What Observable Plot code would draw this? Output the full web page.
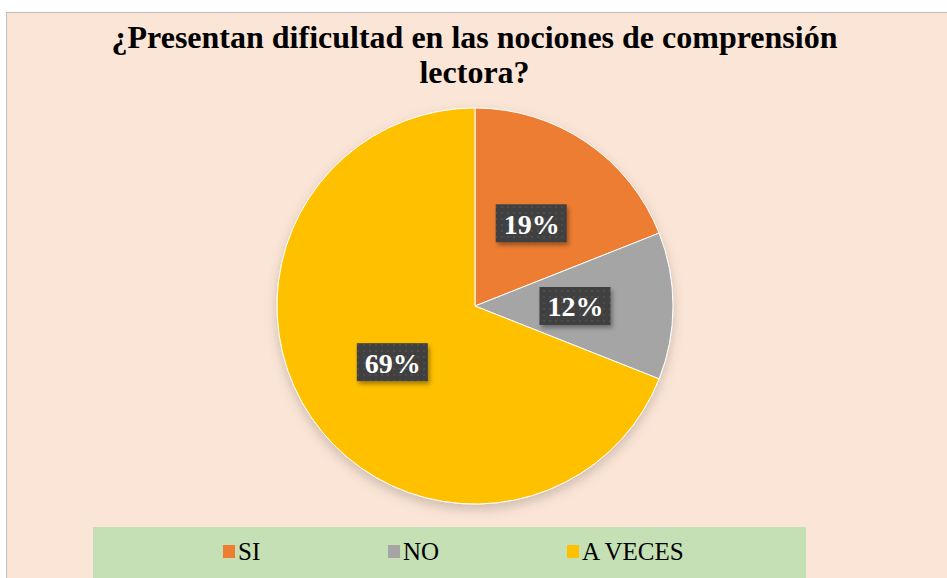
<!DOCTYPE html>
<html>
<head>
<meta charset="utf-8">
<script src="https://cdn.jsdelivr.net/npm/d3@7"></script>
<script src="https://cdn.jsdelivr.net/npm/@observablehq/plot@0.6"></script>
<style>
  html, body { margin: 0; padding: 0; background: #ffffff; }
  #wrap { position: relative; width: 947px; height: 578px; overflow: hidden; background: #ffffff; font-family: "Liberation Serif", "Times New Roman", serif; }
  #panel { position: absolute; left: 6px; top: 12px; width: 945px; height: 570px; background: #FBE5D6; border: 1px solid #BFBFBF; box-sizing: border-box; }
  #title { position: absolute; left: 0; top: 20px; width: 949px; text-align: center; font-weight: bold; font-size: 32px; line-height: 35px; color: #000; }
  #chart { position: absolute; left: 0; top: 0; }
  #legend { position: absolute; left: 93px; top: 527px; width: 713px; height: 51px; background: #C5E0B4; }
  .li { position: absolute; top: 10px; font-size: 25px; line-height: 30px; color: #000; white-space: nowrap; }
  .sw { display: inline-block; width: 12px; height: 13px; margin-right: 3px; vertical-align: 2px; }
</style>
</head>
<body>
<div id="wrap">
  <div id="panel"></div>
  <div id="chart"></div>
  <div id="title">¿Presentan dificultad en las nociones de comprensión<br>lectora?</div>
  <div id="legend"></div>
</div>
<script>
const categories = ["SI", "NO", "A VECES"];
const values = [19, 12, 69];
const labels = ["19%", "12%", "69%"];
const colors = ["#ED7D31", "#A5A5A5", "#FFC000"];

const pie = d3.pie().sort(null).value(d => d.value)(categories.map((c, i) => ({category: c, value: values[i], label: labels[i], color: colors[i]})));
const slices = pie.map(p => ({...p.data, startAngle: p.startAngle, endAngle: p.endAngle, mid: (p.startAngle + p.endAngle) / 2}));

function pieMark(index, scales, values_, dimensions) {
  const x = scales.x || (v => v);
  const y = scales.y || (v => v);
  const cx = x(0), cy = y(0);
  const R = Math.abs(x(1) - x(0));
  const svg = d3.create("svg:g");
  const defs = svg.append("defs");
  const pat = defs.append("pattern").attr("id", "dots").attr("width", 6).attr("height", 6).attr("patternUnits", "userSpaceOnUse");
  pat.append("rect").attr("width", 6).attr("height", 6).attr("fill", "#3F3F3F");
  pat.append("rect").attr("x", 2).attr("y", 2).attr("width", 2).attr("height", 2).attr("fill", "#4E4E4E");
  const f = defs.append("filter").attr("id", "sh").attr("x", "-20%").attr("y", "-20%").attr("width", "140%").attr("height", "150%");
  f.append("feDropShadow").attr("dx", 0).attr("dy", 5).attr("stdDeviation", 6).attr("flood-color", "#000").attr("flood-opacity", 0.18);
  const f2 = defs.append("filter").attr("id", "sh2").attr("x", "-20%").attr("y", "-20%").attr("width", "150%").attr("height", "160%");
  f2.append("feDropShadow").attr("dx", 2).attr("dy", 3).attr("stdDeviation", 2).attr("flood-color", "#000").attr("flood-opacity", 0.35);
  const arc = d3.arc().innerRadius(0).outerRadius(R);
  const g = svg.append("g").attr("transform", `translate(${cx},${cy})`).attr("filter", "url(#sh)");
  g.selectAll("path").data(slices).join("path")
    .attr("d", d => arc(d))
    .attr("fill", d => d.color)
    .attr("stroke", "#ffffff")
    .attr("stroke-width", 1);
  const lg = svg.append("g").attr("transform", `translate(${cx},${cy})`);
  const bw = 71, bh = 38;
  lg.selectAll("rect").data(slices).join("rect")
    .attr("x", d => Math.sin(d.mid) * R * 0.505 - bw / 2)
    .attr("y", d => -Math.cos(d.mid) * R * 0.505 - bh / 2)
    .attr("width", bw).attr("height", bh)
    .attr("fill", "url(#dots)")
    .attr("filter", "url(#sh2)");
  return svg.node();
}

const textData = slices.map(d => ({label: d.label, x: Math.sin(d.mid) * 0.505, y: Math.cos(d.mid) * 0.505}));

const chart = Plot.plot({
  width: 947,
  height: 578,
  marginLeft: 277,
  marginRight: 274,
  marginTop: 108,
  marginBottom: 74,
  style: {background: "transparent", overflow: "visible"},
  x: {domain: [-1, 1], axis: null},
  y: {domain: [-1, 1], axis: null},
  marks: [
    pieMark,
    Plot.text(textData, {
      x: "x", y: "y", text: "label",
      fill: "#ffffff", fontSize: 28, fontWeight: "bold",
      fontFamily: "Liberation Serif, Times New Roman, serif",
      dy: 1
    })
  ]
});
document.getElementById("chart").appendChild(chart);

const legendPos = [130, 295, 474];
const leg = document.getElementById("legend");
categories.forEach((c, i) => {
  const el = document.createElement("div");
  el.className = "li";
  el.style.left = legendPos[i] + "px";
  el.innerHTML = `<span class="sw" style="background:${colors[i]}"></span>${c}`;
  leg.appendChild(el);
});
</script>
</body>
</html>
